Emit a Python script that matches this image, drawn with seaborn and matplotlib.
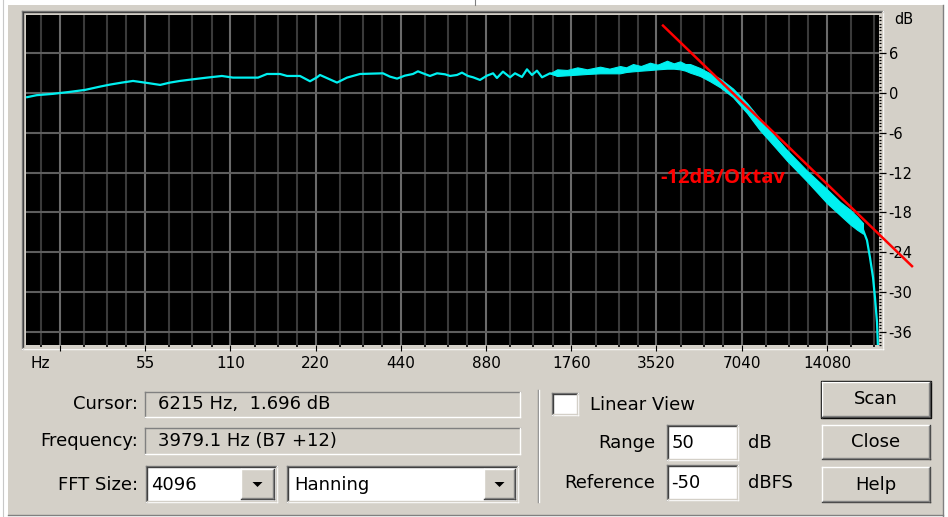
import matplotlib
matplotlib.use("Agg")
import matplotlib.pyplot as plt
from matplotlib.patches import Rectangle, Polygon
from matplotlib.ticker import FixedLocator, MultipleLocator, NullFormatter
import seaborn as sns

# Spektrum (Audacity "Frequenzanalyse")
freq_hz = [21.1, 22.8, 26.0, 29.9, 33.8, 38.2, 41.4, 45.6, 49.9, 55.9, 62.2, 67.4, 73.1,
           81.3, 91.0, 102.8, 112.5, 137.9, 148.3, 164.9, 174.6, 193.9, 210.4, 222.8, 228.2,
           262.1, 284.2, 315.9, 380.8, 403, 427, 455, 486, 506, 527, 558, 591, 631, 657,
           695, 724, 760, 792, 838, 887, 932, 962, 1010, 1070, 1114, 1179, 1228, 1279,
           1332, 1388, 1481, 1568, 1700, 1900, 2224, 2616, 2908, 3338, 3834, 4261, 4623,
           5013, 5439, 5900, 6556, 7348, 8168, 9080, 10175, 11963, 14080, 15653, 17974,
           18865, 19492, 19971, 20471, 20801, 21148, 21313]
pegel_db = [-0.6, -0.3, -0.1, 0.2, 0.5, 1.0, 1.3, 1.6, 1.85, 1.55, 1.25, 1.6, 1.85,
            2.1, 2.35, 2.6, 2.35, 2.35, 2.9, 2.9, 2.6, 2.6, 1.8, 2.4, 2.75,
            1.6, 2.35, 2.9, 3.0, 2.5, 2.2, 2.65, 2.9, 3.3, 3.0, 2.6, 3.0, 2.85, 2.6,
            2.75, 3.1, 2.6, 2.4, 2.0, 2.65, 3.0, 2.3, 3.25, 2.4, 3.0, 2.45, 3.6, 2.75,
            3.4, 2.4, 3.0, 2.7, 3.0, 3.2, 3.4, 3.4, 3.75, 4.0, 4.25, 4.2, 3.75,
            3.2, 2.4, 1.6, 0.1, -2.2, -4.7, -7.0, -9.3, -12.4, -15.3, -17.2, -19.5,
            -20.6, -22.2, -24.8, -27.8, -30.9, -34.6, -38.5]

# Rauschband bei hohen Frequenzen (obere / untere Kante)
band_hz = [1480, 1570, 1700, 1850, 2000, 2224, 2400, 2616, 2750, 2908, 3100, 3338, 3550,
           3834, 4050, 4261, 4450, 4623, 5013, 5439, 5900, 6556, 7348, 8168, 9080, 10175,
           11963, 14080, 15653, 17000, 17974, 18865]
band_oben = [3.0, 3.6, 3.5, 3.9, 3.6, 4.0, 3.7, 4.1, 3.9, 4.4, 4.1, 4.6, 4.3,
             4.9, 4.5, 4.8, 4.4, 4.4, 3.8, 3.0, 2.2, 0.7, -1.5, -3.9, -6.2, -8.6,
             -11.7, -14.5, -16.4, -17.6, -18.6, -19.6]
band_unten = [3.0, 2.6, 2.7, 2.8, 2.9, 3.0, 3.0, 3.0, 3.2, 3.3, 3.4, 3.5, 3.6,
              3.7, 3.7, 3.6, 3.4, 3.1, 2.6, 1.8, 0.9, -0.6, -3.0, -5.6, -7.8, -10.2,
              -13.3, -16.6, -18.4, -19.8, -20.6, -21.2]

# rote Hilfslinie -12dB/Oktav
linie_hz = [3711, 28100]
linie_db = [10.2, -26.1]

x_labels = ["", "55", "110", "220", "440", "880", "1760", "3520", "7040", "14080"]
y_labels = [6, 0, -6, -12, -18, -24, -30, -36]

GRAU = "#d4d0c8"
W, H = 948, 517
plt.rcParams["font.family"] = ["DejaVu Sans"]

fig = plt.figure(figsize=(9.48, 5.17), dpi=100, facecolor="white")

# Hintergrund: Dialogfenster in Pixelkoordinaten
ui = fig.add_axes([0, 0, 1, 1])
ui.set_xlim(0, W)
ui.set_ylim(H, 0)
ui.axis("off")
ui.add_patch(Rectangle((8, 5), 935, 510, fc=GRAU, ec="none"))
ui.plot([943, 943], [5, 516], color="#808080", lw=1)
ui.plot([8, 943], [515, 515], color="#808080", lw=1)
ui.plot([3, 3], [0, 517], color="#c8c8c8", lw=0.8)
ui.plot([475, 475], [0, 5], color="#808080", lw=0.8)


def kante(x0, y0, x1, y1, fill, tl, br, tl2=None, br2=None):
    ui.add_patch(Rectangle((x0, y0), x1 - x0, y1 - y0, fc=fill, ec="none"))
    ui.plot([x0, x1], [y0, y0], color=tl, lw=1)
    ui.plot([x0, x0], [y0, y1], color=tl, lw=1)
    ui.plot([x0, x1], [y1, y1], color=br, lw=1)
    ui.plot([x1, x1], [y0, y1], color=br, lw=1)
    if tl2:
        ui.plot([x0 + 1, x1 - 1], [y0 + 1, y0 + 1], color=tl2, lw=1)
        ui.plot([x0 + 1, x0 + 1], [y0 + 1, y1 - 1], color=tl2, lw=1)
    if br2:
        ui.plot([x0 + 1, x1 - 1], [y1 - 1, y1 - 1], color=br2, lw=1)
        ui.plot([x1 - 1, x1 - 1], [y0 + 1, y1 - 1], color=br2, lw=1)


def feld(x0, y0, x1, y1, fill="white"):
    kante(x0, y0, x1, y1, fill, "#808080", "white", "#404040", GRAU)


def knopf(x0, y0, x1, y1, text=None, default=False):
    kante(x0, y0, x1, y1, GRAU, "white", "#404040", None, "#808080")
    if default:
        ui.add_patch(Rectangle((x0 - 1, y0 - 1), x1 - x0 + 2, y1 - y0 + 2, fc="none", ec="black", lw=1))
    if text:
        ui.text((x0 + x1) / 2, (y0 + y1) / 2, text, ha="center", va="center", fontsize=13)


def pfeil(x0, y0, x1, y1):
    knopf(x0, y0, x1, y1)
    cx, cy = (x0 + x1) / 2, (y0 + y1) / 2
    ui.add_patch(Polygon([(cx - 5, cy - 2), (cx + 5, cy - 2), (cx, cy + 3)], closed=True, fc="black", ec="none"))


# Rahmen um den Plot
kante(22, 11, 883, 349, GRAU, "#808080", "white", "#404040", GRAU)

ui.text(40, 363, "Hz", ha="center", va="center", fontsize=11)
ui.text(894, 20, "dB", ha="left", va="center", fontsize=10.5)

# linke Felder
ui.text(138, 404, "Cursor:", ha="right", va="center", fontsize=13)
kante(145, 392, 520, 417, GRAU, "#808080", "white")
ui.text(158, 404, "6215 Hz,  1.696 dB", ha="left", va="center", fontsize=13)
ui.text(138, 441, "Frequency:", ha="right", va="center", fontsize=13)
kante(145, 428, 520, 454, GRAU, "#808080", "white")
ui.text(158, 441, "3979.1 Hz (B7 +12)", ha="left", va="center", fontsize=13)
ui.text(138, 485, "FFT Size:", ha="right", va="center", fontsize=13)
feld(146, 466, 277, 502)
ui.text(151, 485, "4096", ha="left", va="center", fontsize=13)
pfeil(241, 469, 274, 499)
feld(287, 466, 518, 502)
ui.text(294, 485, "Hanning", ha="left", va="center", fontsize=13)
pfeil(484, 469, 515, 499)

# Trennlinie
ui.plot([538, 538], [390, 502], color="#808080", lw=1)
ui.plot([539.2, 539.2], [390, 502], color="white", lw=1)

# rechte Felder
feld(552, 393, 578, 415)
ui.text(590, 405, "Linear View", ha="left", va="center", fontsize=13)
ui.text(655, 443, "Range", ha="right", va="center", fontsize=13)
feld(667, 425, 738, 460)
ui.text(672, 443, "50", ha="left", va="center", fontsize=13)
ui.text(748, 443, "dB", ha="left", va="center", fontsize=13)
ui.text(655, 483, "Reference", ha="right", va="center", fontsize=13)
feld(667, 465, 738, 500)
ui.text(671, 483, "-50", ha="left", va="center", fontsize=13)
ui.text(748, 483, "dBFS", ha="left", va="center", fontsize=13)

knopf(822, 382, 930, 417, "Scan", default=True)
knopf(822, 425, 930, 459, "Close")
knopf(822, 467, 930, 502, "Help")

# Spektrum
ax = fig.add_axes([26 / W, 1 - 345 / H, (879 - 26) / W, (345 - 15) / H])
ax.set_zorder(3)
ax.set_facecolor("black")

ax.fill_between(band_hz, band_unten, band_oben, color="#00f0f0", lw=0.8, ec="#00f0f0", zorder=3)
sns.lineplot(x=freq_hz, y=pegel_db, ax=ax, color="#00f0f0", lw=1.6, estimator=None,
             sort=False, zorder=4)
ax.plot(linie_hz, linie_db, color="#ff0000", lw=1.8, clip_on=False, zorder=5)
ax.text(3620, -12.8, "-12dB/Oktav", color="#ff0000", fontsize=14.5, fontweight="bold",
        family=["Open Sans", "DejaVu Sans"], ha="left", va="center", zorder=6)

ax.set_xscale("log")
ax.set_xlim(20.9, 21490)
ax.set_ylim(-38.0, 11.8)

oktaven = [27.5 * 2 ** k for k in range(10)]
zwischen = [o * r for o in [13.75] + oktaven for r in (1.22, 1.47, 1.72)]
zwischen = [z for z in zwischen if 20.9 < z < 21490]
ax.xaxis.set_major_locator(FixedLocator(oktaven))
ax.xaxis.set_minor_locator(FixedLocator(zwischen))
ax.xaxis.set_minor_formatter(NullFormatter())
ax.set_xticklabels(x_labels)
ax.set_yticks(y_labels)
ax.set_yticklabels([str(v) for v in y_labels])
ax.yaxis.set_minor_locator(MultipleLocator(0.5))
ax.yaxis.tick_right()

ax.grid(which="major", axis="x", color="#6a6a6a", lw=1.5)
ax.grid(which="minor", axis="x", color="#3a3a3a", lw=1.5)
ax.grid(which="major", axis="y", color="#5e5e5e", lw=1.5)
ax.set_axisbelow(True)

ax.tick_params(axis="x", which="major", direction="out", length=4, width=0.8, pad=4,
               labelsize=11, colors="black")
ax.tick_params(axis="x", which="minor", direction="out", length=1.5, width=1.2, colors="black")
ax.tick_params(axis="y", which="major", direction="out", length=5, width=0.9, pad=2,
               labelsize=10.5, colors="black")
ax.tick_params(axis="y", which="minor", direction="out", length=1.5, width=0.9, colors="black")
for s in ax.spines.values():
    s.set_visible(False)
ax.set_xlabel("")
ax.set_ylabel("")

fig.savefig("out.png", dpi=100, facecolor=fig.get_facecolor())
